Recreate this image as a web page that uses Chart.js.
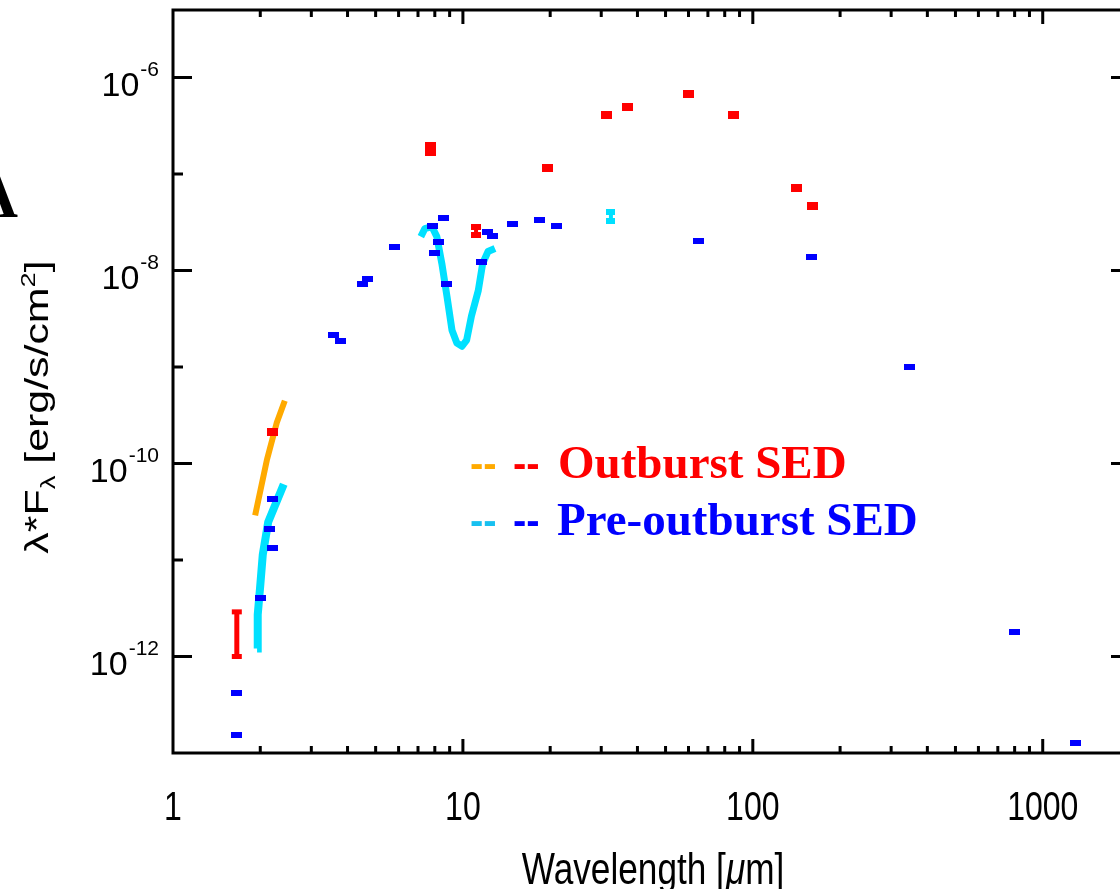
<!DOCTYPE html>
<html>
<head>
<meta charset="utf-8">
<script src="https://cdn.jsdelivr.net/npm/chart.js@4.4.0/dist/chart.umd.min.js"></script>
<style>
html, body { margin: 0; padding: 0; background: #fff; overflow: hidden; }
#wrap { width: 1120px; height: 889px; overflow: hidden; position: relative; }
</style>
</head>
<body>
<div id="wrap"><canvas id="sedChart" width="1140" height="889"></canvas></div>
<script>
// Outburst photometry (red)
const outburstLambda = [2.21, 7.7, 7.7, 19.6, 31.4, 37.1, 60.2, 86, 142, 161]
const outburstFlux = [2.14e-10, 1.68e-7, 1.93e-7, 1.15e-7, 4.06e-7, 5.0e-7, 6.7e-7, 4.06e-7, 7.2e-8, 4.7e-8]

// outburst 11 micron point with error (red)
const redPtLambda = [11.1, 11.1]
const redPtFlux = [2.35e-8, 2.84e-8]

// Pre-outburst photometry (blue)
const preLambda = [1.65, 1.66, 2.01, 2.16, 2.21, 2.21, 3.59, 3.77, 4.52, 4.70, 5.83, 7.88, 8.0, 8.27, 8.6, 8.81, 11.6, 12.2, 12.6, 14.8, 18.4, 21.1, 65.1, 159.7, 348, 800, 1300]
const preFlux = [1.53e-13, 4.2e-13, 4.05e-12, 2.09e-11, 1.33e-11, 4.26e-11, 2.14e-9, 1.85e-9, 7.2e-9, 8.1e-9, 1.77e-8, 2.91e-8, 1.53e-8, 1.95e-8, 3.5e-8, 7.2e-9, 1.21e-8, 2.52e-8, 2.25e-8, 3.05e-8, 3.36e-8, 2.91e-8, 2.04e-8, 1.39e-8, 1.0e-9, 1.81e-12, 1.27e-13]

// pre-outburst 32 micron point with error (cyan)
const cyanPtLambda = [32.4, 32.4]
const cyanPtFlux = [3.25e-8, 4.0e-8]

// outburst H-band range (red error bar)
const redBarLambda = [1.66, 1.66]
const redBarFlux = [1.0e-12, 2.9e-12]

// outburst K-band spectrum (orange)
const orangeLambda = [1.92, 2.11, 2.28, 2.43]
const orangeFlux = [2.9e-11, 1.1e-10, 2.65e-10, 4.46e-10]

// pre-outburst near-IR spectrum (cyan)
const nirLambda = [1.95, 1.96, 1.995, 2.04, 2.13, 2.25, 2.41]
const nirFlux = [1.21e-12, 2.71e-12, 5.0e-12, 1.13e-11, 2.47e-11, 3.69e-11, 6.1e-11]

// pre-outburst silicate spectrum (cyan)
const silLambda = [7.16, 7.39, 7.82, 8.13, 8.46, 8.81, 9.17, 9.53, 9.93, 10.3, 10.7, 11.3, 11.7, 12.2, 12.9]
const silFlux = [2.24e-8, 2.71e-8, 2.84e-8, 2.24e-8, 1.18e-8, 5.4e-9, 2.4e-9, 1.77e-9, 1.64e-9, 1.9e-9, 3.36e-9, 6.2e-9, 1.18e-8, 1.57e-8, 1.69e-8]

// axis ticks
const xMajor = [1, 10, 100, 1000]
const yExponents = [-12, -11, -10, -9, -8, -7, -6]
const yLabelExponents = [-12, -10, -8, -6]

const RED = "#ff0000"
const BLUE = "#0000ff"
const CYAN = "#00e0ff"
const ORANGE = "#ffaa00"

function pairs(xs, ys) {
    return xs.map((x, i) => ({ x: x, y: ys[i] }))
}

function makeMarker(color, w, h) {
    const c = document.createElement("canvas")
    c.width = w
    c.height = h
    const g = c.getContext("2d")
    g.fillStyle = color
    g.fillRect(0, 0, w, h)
    return c
}

function condensed(ctx, text, x, y, sx, align) {
    ctx.save()
    ctx.translate(x, y)
    ctx.scale(sx, 1)
    ctx.textAlign = align
    ctx.fillText(text, 0, 0)
    ctx.restore()
}

const sedDecor = {
    id: "sedDecor",
    afterDatasetsDraw(chart) {
        const ctx = chart.ctx
        const a = chart.chartArea
        const xs = chart.scales.x
        const ys = chart.scales.y
        ctx.save()
        ctx.strokeStyle = "#000"
        ctx.fillStyle = "#000"
        ctx.lineWidth = 3
        ctx.strokeRect(a.left, a.top, a.right - a.left, a.bottom - a.top)

        // x ticks, pointing inward on bottom and top
        ctx.beginPath()
        xMajor.forEach(v => {
            for (let m = 1; m <= 9; m++) {
                const val = v * m
                if (val <= xs.min || val >= xs.max) continue
                const px = xs.getPixelForValue(val)
                const len = m === 1 ? 14 : 7
                ctx.moveTo(px, a.bottom)
                ctx.lineTo(px, a.bottom - len)
                ctx.moveTo(px, a.top)
                ctx.lineTo(px, a.top + len)
            }
        })
        // y ticks, left and right
        yExponents.forEach(e => {
            const py = ys.getPixelForValue(Math.pow(10, e))
            const len = e % 2 === 0 ? 19 : 10
            ctx.moveTo(a.left, py)
            ctx.lineTo(a.left + len, py)
            ctx.moveTo(a.right, py)
            ctx.lineTo(a.right - len, py)
        })
        ctx.stroke()

        // x tick labels
        ctx.font = '40px "Liberation Sans", Arial, sans-serif'
        ctx.textBaseline = "alphabetic"
        xMajor.forEach(v => {
            condensed(ctx, String(v), xs.getPixelForValue(v), 820, 0.8, "center")
        })

        // y tick labels 10^n
        yLabelExponents.forEach(e => {
            const py = ys.getPixelForValue(Math.pow(10, e))
            ctx.font = '21px "Liberation Sans", Arial, sans-serif'
            ctx.textAlign = "right"
            const sup = String(e)
            ctx.fillText(sup, 159, py - 1)
            const sw = ctx.measureText(sup).width
            ctx.font = '34px "Liberation Sans", Arial, sans-serif'
            ctx.fillText("10", 159 - sw - 1, py + 19)
        })

        // x title
        const sx = 0.8
        ctx.textAlign = "left"
        ctx.font = '44px "Liberation Sans", Arial, sans-serif'
        const t1 = "Wavelength [", t3 = "m]"
        const w1 = ctx.measureText(t1).width * sx
        const w3 = ctx.measureText(t3).width * sx
        ctx.font = 'italic 44px "Liberation Sans", Arial, sans-serif'
        const w2 = ctx.measureText("μ").width * sx
        let x0 = 653 - (w1 + w2 + w3) / 2
        ctx.font = '44px "Liberation Sans", Arial, sans-serif'
        condensed(ctx, t1, x0, 884, sx, "left")
        ctx.font = 'italic 44px "Liberation Sans", Arial, sans-serif'
        condensed(ctx, "μ", x0 + w1, 884, sx, "left")
        ctx.font = '44px "Liberation Sans", Arial, sans-serif'
        condensed(ctx, t3, x0 + w1 + w2, 884, sx, "left")

        // y title (rotated, stretched along its length)
        ctx.save()
        ctx.translate(48, 407)
        ctx.rotate(-Math.PI / 2)
        ctx.scale(1.3, 1)
        const big = '33px "Liberation Sans", Arial, sans-serif'
        const small = '21px "Liberation Sans", Arial, sans-serif'
        const parts = [
            ["λ*F", big, 0],
            ["λ", small, 7],
            [" [erg/s/cm", big, 0],
            ["2", small, -13],
            ["]", big, 0],
        ]
        let total = 0
        parts.forEach(p => { ctx.font = p[1]; total += ctx.measureText(p[0]).width })
        let cx = -total / 2
        ctx.textAlign = "left"
        parts.forEach(p => {
            ctx.font = p[1]
            ctx.fillText(p[0], cx, p[2])
            cx += ctx.measureText(p[0]).width
        })
        ctx.restore()

        // legend
        ctx.textAlign = "left"
        ctx.font = 'bold 40px "Liberation Sans", Arial, sans-serif'
        ctx.fillStyle = ORANGE
        ctx.fillText("--", 470, 477)
        ctx.fillStyle = RED
        ctx.fillText("--", 513, 477)
        ctx.fillStyle = "#18c0f0"
        ctx.fillText("--", 470, 534)
        ctx.fillStyle = BLUE
        ctx.fillText("--", 513, 534)
        ctx.font = 'bold 47px "Liberation Serif", "Times New Roman", serif'
        ctx.fillStyle = RED
        ctx.fillText("Outburst SED", 558, 478)
        ctx.fillStyle = BLUE
        ctx.fillText("Pre-outburst SED", 557, 535)

        // panel letter
        ctx.fillStyle = "#000"
        ctx.font = 'bold 64px "Liberation Serif", "Times New Roman", serif'
        ctx.textAlign = "right"
        ctx.fillText("A", 18, 217)
        ctx.restore()
    },
}

const ctx = document.getElementById("sedChart").getContext("2d")
const config = {
    type: "scatter",
    data: {
        datasets: [
            {
                data: pairs(outburstLambda, outburstFlux),
                pointStyle: makeMarker(RED, 11, 8),
            },
            {
                data: pairs(preLambda, preFlux),
                pointStyle: makeMarker(BLUE, 11, 6),
            },
            {
                data: pairs(redPtLambda, redPtFlux),
                showLine: true,
                borderColor: RED,
                borderWidth: 4,
                pointStyle: makeMarker(RED, 10, 6),
            },
            {
                data: pairs(cyanPtLambda, cyanPtFlux),
                showLine: true,
                borderColor: CYAN,
                borderWidth: 4,
                pointStyle: makeMarker(CYAN, 9, 6),
            },
            {
                data: pairs(redBarLambda, redBarFlux),
                showLine: true,
                borderColor: RED,
                borderWidth: 5,
                pointStyle: "line",
                pointRadius: 5,
                pointBorderWidth: 5,
                pointBorderColor: RED,
            },
            {
                data: pairs(orangeLambda, orangeFlux),
                showLine: true,
                borderColor: ORANGE,
                borderWidth: 6,
                pointRadius: 0,
            },
            {
                data: pairs(nirLambda, nirFlux),
                showLine: true,
                borderColor: CYAN,
                borderWidth: 8,
                pointRadius: 0,
            },
            {
                data: pairs(silLambda, silFlux),
                showLine: true,
                borderColor: CYAN,
                borderWidth: 7,
                pointRadius: 0,
                borderJoinStyle: "round",
            },
        ],
    },
    options: {
        responsive: false,
        animation: false,
        layout: { padding: { left: 0, top: 6, right: 10, bottom: 0 } },
        plugins: {
            legend: { display: false },
            tooltip: { enabled: false },
        },
        scales: {
            x: {
                type: "logarithmic",
                min: 1,
                max: 2000,
                ticks: { display: false },
                grid: { display: false },
                border: { display: false },
                afterFit(scale) { scale.height = 136 },
            },
            y: {
                type: "logarithmic",
                min: 1e-13,
                max: 5e-6,
                ticks: { display: false },
                grid: { display: false },
                border: { display: false },
                afterFit(scale) { scale.width = 173 },
            },
        },
    },
    plugins: [sedDecor],
}
var sedChart = new Chart(ctx, config)
</script>
</body>
</html>
